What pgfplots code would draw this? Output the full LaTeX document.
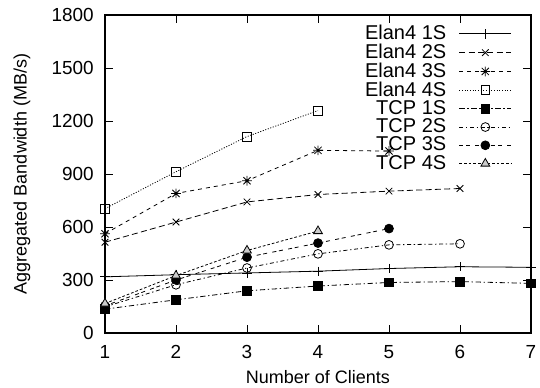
\documentclass[border=0pt]{standalone}
\usepackage{fontspec}
\setmainfont{Liberation Sans}
\usepackage{pgfplots}
\pgfplotsset{compat=1.18}
\pgfdeclareplotmark{gpstar}{%
  \pgfpathmoveto{\pgfqpoint{-\pgfplotmarksize}{0pt}}\pgfpathlineto{\pgfqpoint{\pgfplotmarksize}{0pt}}%
  \pgfpathmoveto{\pgfqpoint{0pt}{-\pgfplotmarksize}}\pgfpathlineto{\pgfqpoint{0pt}{\pgfplotmarksize}}%
  \pgfpathmoveto{\pgfqpoint{-0.75\pgfplotmarksize}{-0.75\pgfplotmarksize}}\pgfpathlineto{\pgfqpoint{0.75\pgfplotmarksize}{0.75\pgfplotmarksize}}%
  \pgfpathmoveto{\pgfqpoint{-0.75\pgfplotmarksize}{0.75\pgfplotmarksize}}\pgfpathlineto{\pgfqpoint{0.75\pgfplotmarksize}{-0.75\pgfplotmarksize}}%
  \pgfusepathqstroke}
\begin{document}
\fontsize{13.5}{16}\selectfont
\begin{tikzpicture}
\begin{axis}[
  scale only axis,
  width=319.5pt, height=238.5pt,
  xmin=1, xmax=7, ymin=0, ymax=1800,
  xtick={1,2,3,4,5,6,7},
  ytick={0,300,600,900,1200,1500,1800},
  tick align=inside,
  major tick length=6pt,
  axis line style={line width=0.9pt},
  every tick/.style={line width=0.7pt, black},
  /pgf/number format/assume math mode=true,
  /pgf/number format/1000 sep={},
  tick label style={font=\fontsize{14.2}{16}\selectfont},
  yticklabel style={inner sep=0pt, xshift=-8.25pt},
  xticklabel style={inner sep=0pt, yshift=-9pt},
  label style={font=\fontsize{13.5}{16}\selectfont},
  xlabel={Number of Clients},
  ylabel={Aggregated Bandwidth (MB/s)},
  xlabel style={at={([yshift=-33pt]axis description cs:0.5,0)}, anchor=center},
  ylabel style={at={([xshift=-62.25pt]axis description cs:0,0.5)}, anchor=center},
  legend plot pos=right,
  legend cell align=right,
  legend style={draw=none, fill=none, at={(rel axis cs:1,1)}, anchor=north east,
    xshift=-14.25pt, yshift=-5.5pt,
    font=\fontsize{15}{16}\selectfont, row sep=-2.8pt, column sep=7.5pt, inner sep=0pt},
  legend image code/.code={%
    \draw[mark=none] (0pt,0pt) -- (39pt,0pt);
    \draw[dash pattern=] plot coordinates {(19.5pt,0pt)};},
  every axis plot/.append style={line width=0.6pt, black},
]
\addplot[solid, mark=+, mark size=3.5pt] coordinates {(1,318) (2,330) (3,340) (4,350) (5,365) (6,375) (7,372)};
\addlegendentry{Elan4 1S}
\addplot[dash pattern=on 4.5pt off 2.5pt, mark=x, mark size=3.5pt, mark options={solid}] coordinates {(1,514) (2,628) (3,742) (4,784) (5,803) (6,818)};
\addlegendentry{Elan4 2S}
\addplot[dash pattern=on 3pt off 3pt, mark=gpstar, mark size=3.6pt, mark options={solid}] coordinates {(1,562) (2,790) (3,862) (4,1034) (5,1030)};
\addlegendentry{Elan4 3S}
\addplot[dash pattern=on 0.8pt off 1.2pt, mark=square, mark size=3.3pt, mark options={solid}] coordinates {(1,704) (2,913) (3,1112) (4,1259)};
\addlegendentry{Elan4 4S}
\addplot[dash pattern=on 4pt off 2pt on 1pt off 2pt, mark=square*, mark size=3.3pt, mark options={solid}] coordinates {(1,135) (2,188) (3,239) (4,266) (5,286) (6,291) (7,281)};
\addlegendentry{TCP 1S}
\addplot[dash pattern=on 3pt off 2pt on 1pt off 2pt, mark=o, mark size=3.3pt, mark options={solid}] coordinates {(1,148) (2,273) (3,368) (4,448) (5,499) (6,505)};
\addlegendentry{TCP 2S}
\addplot[dash pattern=on 3pt off 2pt on 3pt off 4pt, mark=*, mark size=3.3pt, mark options={solid}] coordinates {(1,154) (2,300) (3,429) (4,509) (5,591)};
\addlegendentry{TCP 3S}
\addplot[dash pattern=on 2pt off 1.5pt, mark=triangle*, mark size=3.8pt, mark options={solid, fill=gray!40, draw=black}] coordinates {(1,167) (2,325) (3,467) (4,577)};
\addlegendentry{TCP 4S}
\end{axis}
\pgfresetboundingbox
\path ([shift={(-78.75pt,-40.5pt)}]current axis.south west) rectangle ([shift={(6.75pt,11.25pt)}]current axis.north east);
\end{tikzpicture}
\end{document}
